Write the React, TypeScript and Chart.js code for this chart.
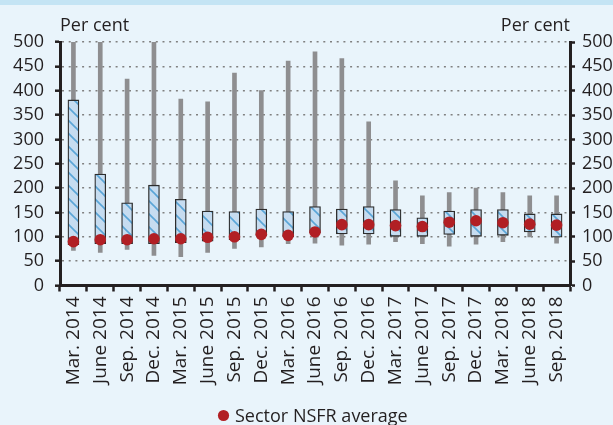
import React, { useEffect, useRef } from "react";
import { Chart, registerables } from "chart.js";

Chart.register(...registerables);

const categories = [
  "Mar. 2014", "June 2014", "Sep. 2014", "Dec. 2014",
  "Mar. 2015", "June 2015", "Sep. 2015", "Dec. 2015",
  "Mar. 2016", "June 2016", "Sep. 2016", "Dec. 2016",
  "Mar. 2017", "June 2017", "Sep. 2017", "Dec. 2017",
  "Mar. 2018", "June 2018", "Sep. 2018",
];

const whiskerMin = [72, 68, 74, 62, 59, 68, 76, 79, 86, 87, 83, 85, 90, 86, 81, 85, 90, 100, 87];
const whiskerMax = [500, 500, 424, 500, 383, 377, 436, 400, 461, 480, 466, 336, 215, 184, 191, 200, 191, 184, 184];
const boxLow = [84, 86, 86, 86, 88, 91, 94, 102, 100, 108, 106, 106, 101, 101, 105, 101, 103, 110, 99];
const boxHigh = [381, 229, 170, 206, 177, 153, 152, 157, 152, 162, 157, 162, 156, 139, 153, 156, 156, 147, 147];
const sectorAverage = [90, 94, 94, 96, 96, 99, 100, 105, 103, 110, 125, 125, 123, 121, 130, 133, 129, 126, 124];

const legendLabel = "Sector NSFR average";
const axisTitle = "Per cent";

const FONT = "'Open Sans', 'Noto Sans', sans-serif";
const TEXT = "#231f20";
const AXIS = "#231f20";
const RED = "#b11f24";

export default function App() {
  const ref = useRef<HTMLCanvasElement | null>(null);

  useEffect(() => {
    document.body.style.margin = "0";
    const canvas = ref.current;
    if (!canvas) return;
    const ctx = canvas.getContext("2d")!;

    const tile = document.createElement("canvas");
    tile.width = 13;
    tile.height = 13;
    const g = tile.getContext("2d")!;
    g.fillStyle = "#c6dcf0";
    g.fillRect(0, 0, 13, 13);
    g.strokeStyle = "#5aa5d7";
    g.lineWidth = 1.6;
    for (const off of [-13, 0, 13]) {
      g.beginPath();
      g.moveTo(off - 2, -2);
      g.lineTo(off + 15, 15);
      g.stroke();
    }
    const hatch = ctx.createPattern(tile, "repeat")!;

    const bgPlugin = {
      id: "bg",
      beforeDraw(chart: any) {
        const c = chart.ctx;
        c.save();
        c.fillStyle = "#e9f4fb";
        c.fillRect(0, 0, chart.width, chart.height);
        c.fillStyle = "#c4e4f4";
        c.fillRect(0, 0, chart.width, 5);
        c.restore();
      },
      afterDraw(chart: any) {
        const c = chart.ctx;
        const a = chart.chartArea;
        c.save();
        c.font = `18px ${FONT}`;
        c.fillStyle = TEXT;
        c.textBaseline = "alphabetic";
        c.textAlign = "left";
        c.fillText(axisTitle, a.left, 31);
        c.textAlign = "right";
        c.fillText(axisTitle, a.right, 31);
        // legend
        const meta = chart.getDatasetMeta(0);
        const label = meta ? chart.data.datasets[0].label : legendLabel;
        c.textAlign = "left";
        c.fillText(label, 235, 422);
        c.fillStyle = RED;
        c.beginPath();
        c.arc(223.5, 415.5, 5.6, 0, Math.PI * 2);
        c.fill();
        c.restore();
      },
    };

    const tickFont = { family: FONT, size: 18 };

    const chart = new Chart(ctx, {
      type: "bar",
      data: {
        labels: categories,
        datasets: [
          {
            type: "line",
            label: legendLabel,
            data: sectorAverage,
            showLine: false,
            pointRadius: 5.8,
            pointHoverRadius: 5.8,
            pointBackgroundColor: RED,
            pointBorderWidth: 0,
            backgroundColor: RED,
            borderColor: RED,
            order: 0,
          } as any,
          {
            type: "bar",
            label: "Interquartile range",
            data: boxLow.map((l, i) => [l, boxHigh[i]]),
            backgroundColor: hatch,
            borderColor: "#2d2d2d",
            borderWidth: 1.3,
            borderSkipped: false,
            barThickness: 11,
            grouped: false,
            order: 1,
          } as any,
          {
            type: "bar",
            label: "Min-max",
            data: whiskerMin.map((l, i) => [l, whiskerMax[i]]),
            backgroundColor: "#8e8e90",
            borderWidth: 0,
            barThickness: 4,
            grouped: false,
            order: 2,
          } as any,
        ],
      },
      options: {
        responsive: false,
        animation: false,
        layout: { padding: { top: 42, bottom: 27.5, left: 0, right: 0 } },
        plugins: {
          tooltip: { enabled: false },
          legend: { display: false },
        },
        scales: {
          x: {
            offset: true,
            afterFit: (s: any) => {
              s.height = 112;
            },
            grid: {
              display: true,
              drawOnChartArea: false,
              drawTicks: true,
              offset: true,
              tickLength: 6,
              tickColor: AXIS,
              tickWidth: 2.5,
            },
            border: { display: true, color: AXIS, width: 3 },
            ticks: {
              autoSkip: false,
              minRotation: 90,
              maxRotation: 90,
              padding: 5,
              font: { family: FONT, size: 19 },
              color: TEXT,
            },
          },
          y: {
            min: 0,
            max: 500,
            position: "left",
            afterFit: (s: any) => {
              s.width = 60;
            },
            grid: {
              display: true,
              drawOnChartArea: true,
              color: "#808080",
              lineWidth: 1.4,
              tickLength: 5,
              tickColor: AXIS,
              tickWidth: 2.5,
            },
            border: { display: true, color: AXIS, width: 3, dash: [2, 4.7] },
            ticks: { stepSize: 50, autoSkip: false, font: tickFont, color: TEXT, padding: 11 },
          },
          y2: {
            min: 0,
            max: 500,
            position: "right",
            afterFit: (s: any) => {
              s.width = 43;
            },
            grid: {
              display: true,
              drawOnChartArea: false,
              tickLength: 5,
              tickColor: AXIS,
              tickWidth: 2.5,
            },
            border: { display: true, color: AXIS, width: 3 },
            ticks: { stepSize: 50, autoSkip: false, font: tickFont, color: TEXT, padding: 7 },
          },
        },
      } as any,
      plugins: [bgPlugin],
    });

    return () => chart.destroy();
  }, []);

  return (
    <div style={{ width: 613, height: 425, position: "relative" }}>
      <canvas ref={ref} width={613} height={425} />
    </div>
  );
}
